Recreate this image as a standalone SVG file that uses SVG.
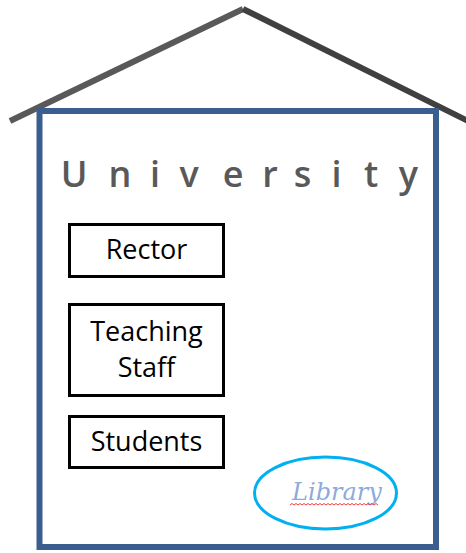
<svg xmlns="http://www.w3.org/2000/svg" width="466" height="553" viewBox="0 0 466 553">
<style>
.box{fill:#fff;stroke:#000;stroke-width:3}
.lbl{font-family:"Open Sans","Liberation Sans",sans-serif;font-size:27px;fill:#000;text-anchor:middle}
.title{font-family:"Open Sans","Liberation Sans",sans-serif;font-size:36px;fill:#595959;font-weight:600;text-anchor:middle}
</style>
<rect width="466" height="553" fill="#fff"/>
<g id="roof">
<line x1="10" y1="121" x2="243" y2="9" stroke="#595959" stroke-width="6"/>
<line x1="243" y1="9" x2="470" y2="122" stroke="#404040" stroke-width="6"/>
</g>
<g id="university">
<rect x="39.5" y="111" width="396.5" height="436" fill="none" stroke="#3a5f8f" stroke-width="6"/>
<text class="title" y="187" x="74 120 155 189 233 270 302.5 336.5 371 408.5">University</text>
</g>
<g id="rector">
<rect class="box" x="69.5" y="224.5" width="154" height="52"/>
<text class="lbl" x="146.5" y="259">Rector</text>
</g>
<g id="teaching-staff">
<rect class="box" x="69.5" y="304.5" width="154" height="91"/>
<text class="lbl" x="146.5" y="341">Teaching</text>
<text class="lbl" x="146.5" y="377">Staff</text>
</g>
<g id="students">
<rect class="box" x="69.5" y="416.5" width="154" height="51"/>
<text class="lbl" x="146.5" y="451">Students</text>
</g>
<g id="library">
<ellipse cx="325.5" cy="493" rx="71" ry="36" fill="#fff" stroke="#00b0f0" stroke-width="3"/>
<text x="337" y="500" text-anchor="middle" font-family="DejaVu Serif,Liberation Serif,serif" font-style="italic" font-size="24" fill="#8eaadb">Library</text>
<path d="M290 505 l2 -1.5 l2 1.5 l2 -1.5 l2 1.5 l2 -1.5 l2 1.5 l2 -1.5 l2 1.5 l2 -1.5 l2 1.5 l2 -1.5 l2 1.5 l2 -1.5 l2 1.5 l2 -1.5 l2 1.5 l2 -1.5 l2 1.5 l2 -1.5 l2 1.5 l2 -1.5 l2 1.5 l2 -1.5 l2 1.5 l2 -1.5 l2 1.5 l2 -1.5 l2 1.5 l2 -1.5 l2 1.5 l2 -1.5 l2 1.5 l2 -1.5 l2 1.5 l2 -1.5 l2 1.5 l2 -1.5 l2 1.5 l2 -1.5 l2 1.5 l2 -1.5 l2 1.5 l2 -1.5 l2 1.5" fill="none" stroke="#f04040" stroke-width="1"/>
</g>
</svg>
